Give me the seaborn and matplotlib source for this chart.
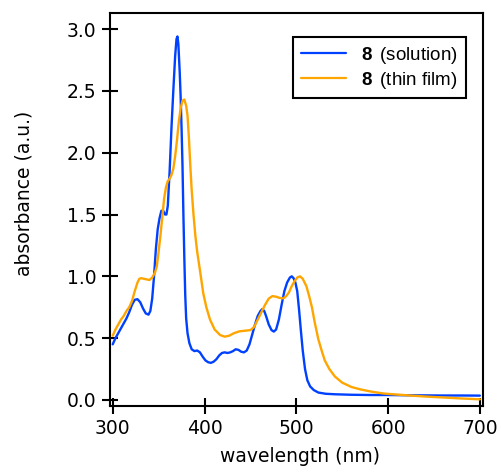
import matplotlib
matplotlib.use("Agg")
import matplotlib.pyplot as plt
import seaborn as sns
import pandas as pd

# Absorption spectra of compound 8
wl_solution = [300, 303, 306, 309, 312, 315, 318, 321, 324, 327, 330, 333, 336, 339,
               341, 343, 345, 347, 349, 351, 353, 355, 357, 358.5, 360, 362, 364, 366,
               368, 369.5, 370.5, 371.5, 373, 374, 375, 376, 377, 378, 379, 380, 381.5,
               383.5, 386, 389, 392, 395, 398, 401, 404, 407, 410, 413, 416, 419, 422,
               425, 428, 431, 434, 437, 440, 443, 446, 449, 452, 455, 458, 461, 463, 465,
               467, 470, 473, 475.5, 478, 481, 484, 487, 490, 493, 495, 497, 499, 501,
               503, 505, 507, 509.5, 512, 515, 519, 524, 532, 542, 560, 580, 600, 620,
               640, 660, 680, 700]
abs_solution = [0.45, 0.50, 0.54, 0.58, 0.62, 0.66, 0.71, 0.77, 0.81, 0.815, 0.79, 0.74,
                0.70, 0.69, 0.72, 0.82, 1.00, 1.22, 1.38, 1.47, 1.53, 1.53, 1.50, 1.50,
                1.57, 1.85, 2.20, 2.50, 2.78, 2.92, 2.94, 2.88, 2.65, 2.45, 2.20, 1.90,
                1.50, 1.15, 0.85, 0.66, 0.54, 0.46, 0.41, 0.395, 0.40, 0.385, 0.35, 0.32,
                0.305, 0.30, 0.31, 0.33, 0.36, 0.38, 0.385, 0.38, 0.385, 0.395, 0.41,
                0.405, 0.39, 0.385, 0.40, 0.45, 0.53, 0.61, 0.68, 0.72, 0.735, 0.72, 0.68,
                0.61, 0.565, 0.553, 0.57, 0.65, 0.77, 0.88, 0.95, 0.99, 1.00, 0.985, 0.95,
                0.88, 0.73, 0.56, 0.40, 0.25, 0.16, 0.11, 0.08, 0.06, 0.05, 0.046, 0.042,
                0.04, 0.04, 0.038, 0.037, 0.036, 0.036, 0.035]

wl_film = [300, 303, 306, 309, 312, 315, 318, 321, 324, 327, 329, 331, 334, 337, 340, 343,
           346, 348, 350, 352, 354, 356, 358, 360, 362, 364, 366, 368, 370, 372, 374, 376,
           378, 380, 381.5, 383, 384.5, 386, 388, 390, 392, 395, 398.7, 402, 406, 411, 417,
           422, 427, 432, 438, 444, 450, 454, 458, 462, 466, 470, 474, 478, 482, 486, 489,
           492, 495, 498, 501, 504, 507, 511, 514, 517, 520, 524, 528, 531, 536, 542, 550,
           560, 570, 582, 595, 607, 620, 640, 660, 680, 700]
abs_film = [0.52, 0.57, 0.61, 0.65, 0.68, 0.72, 0.75, 0.80, 0.88, 0.95, 0.98, 0.985, 0.98,
            0.975, 0.97, 0.99, 1.03, 1.08, 1.20, 1.33, 1.48, 1.63, 1.72, 1.77, 1.79, 1.82,
            1.87, 1.97, 2.10, 2.25, 2.36, 2.42, 2.43, 2.38, 2.30, 2.12, 1.90, 1.70, 1.50,
            1.33, 1.20, 1.05, 0.86, 0.75, 0.65, 0.57, 0.525, 0.512, 0.52, 0.54, 0.555, 0.56,
            0.565, 0.59, 0.65, 0.71, 0.77, 0.82, 0.84, 0.835, 0.825, 0.822, 0.84, 0.87,
            0.92, 0.96, 0.99, 1.00, 0.98, 0.92, 0.84, 0.75, 0.63, 0.49, 0.39, 0.32, 0.25,
            0.19, 0.14, 0.105, 0.085, 0.067, 0.052, 0.045, 0.038, 0.028, 0.02, 0.012, 0.005]

series_names = ["solution", "thin film"]
series_colors = ["#0040FF", "#FFA500"]
x_ticks = [300, 400, 500, 600, 700]
y_ticks = [0.0, 0.5, 1.0, 1.5, 2.0, 2.5, 3.0]

df = pd.concat([
    pd.DataFrame({"wavelength": wl_solution, "absorbance": abs_solution, "sample": series_names[0]}),
    pd.DataFrame({"wavelength": wl_film, "absorbance": abs_film, "sample": series_names[1]}),
], ignore_index=True)

sns.set_theme(style="ticks")
plt.rcParams["font.family"] = ["DejaVu Sans"]
plt.rcParams["text.color"] = "black"
plt.rcParams["axes.labelcolor"] = "black"
plt.rcParams["mathtext.fontset"] = "custom"
plt.rcParams["mathtext.bf"] = "Liberation Sans:bold"
plt.rcParams["mathtext.rm"] = "Liberation Sans"

fig = plt.figure(figsize=(5.02, 4.72), dpi=100)
ax = fig.add_axes([0.2185, 0.1398, 0.7435, 0.8327])

sns.lineplot(data=df, x="wavelength", y="absorbance", hue="sample",
             palette=dict(zip(series_names, series_colors)), linewidth=1.7,
             sort=False, estimator=None, ax=ax, legend=False)

ax.set_xlim(296.7, 703.3)
ax.set_ylim(-0.049, 3.13)
ax.set_xticks(x_ticks)
ax.set_yticks(y_ticks)
ax.set_yticklabels([f"{v:.1f}" for v in y_ticks])

for side in ["left", "right", "top", "bottom"]:
    ax.spines[side].set_visible(True)
    ax.spines[side].set_linewidth(1.5)
    ax.spines[side].set_color("black")

ax.tick_params(axis="both", direction="inout", length=11, width=1.5,
               labelsize=13.5, pad=4, colors="black")

ax.set_xlabel("wavelength (nm)", fontsize=13.5, color="black")
ax.set_ylabel("absorbance (a.u.)", fontsize=13.5, color="black")
ax.yaxis.set_label_coords(-0.205, 0.54)
ax.xaxis.set_label_coords(0.51, -0.105)

handles = [plt.Line2D([], [], color=c, linewidth=1.6) for c in series_colors]
labels = [r"$\mathbf{8}\,$ (" + n + ")" for n in series_names]
leg = ax.legend(handles, labels, loc="upper right", bbox_to_anchor=(0.954, 0.939),
                borderaxespad=0, frameon=True, fancybox=False,
                handlelength=2.4, handletextpad=0.8, borderpad=0.42, labelspacing=0.2,
                prop={"family": "Liberation Sans", "size": 13.5})
leg.get_frame().set_edgecolor("black")
leg.get_frame().set_linewidth(1.5)
leg.get_frame().set_alpha(1)
for t in leg.get_texts():
    t.set_color("black")

fig.savefig("out.png", dpi=100)
